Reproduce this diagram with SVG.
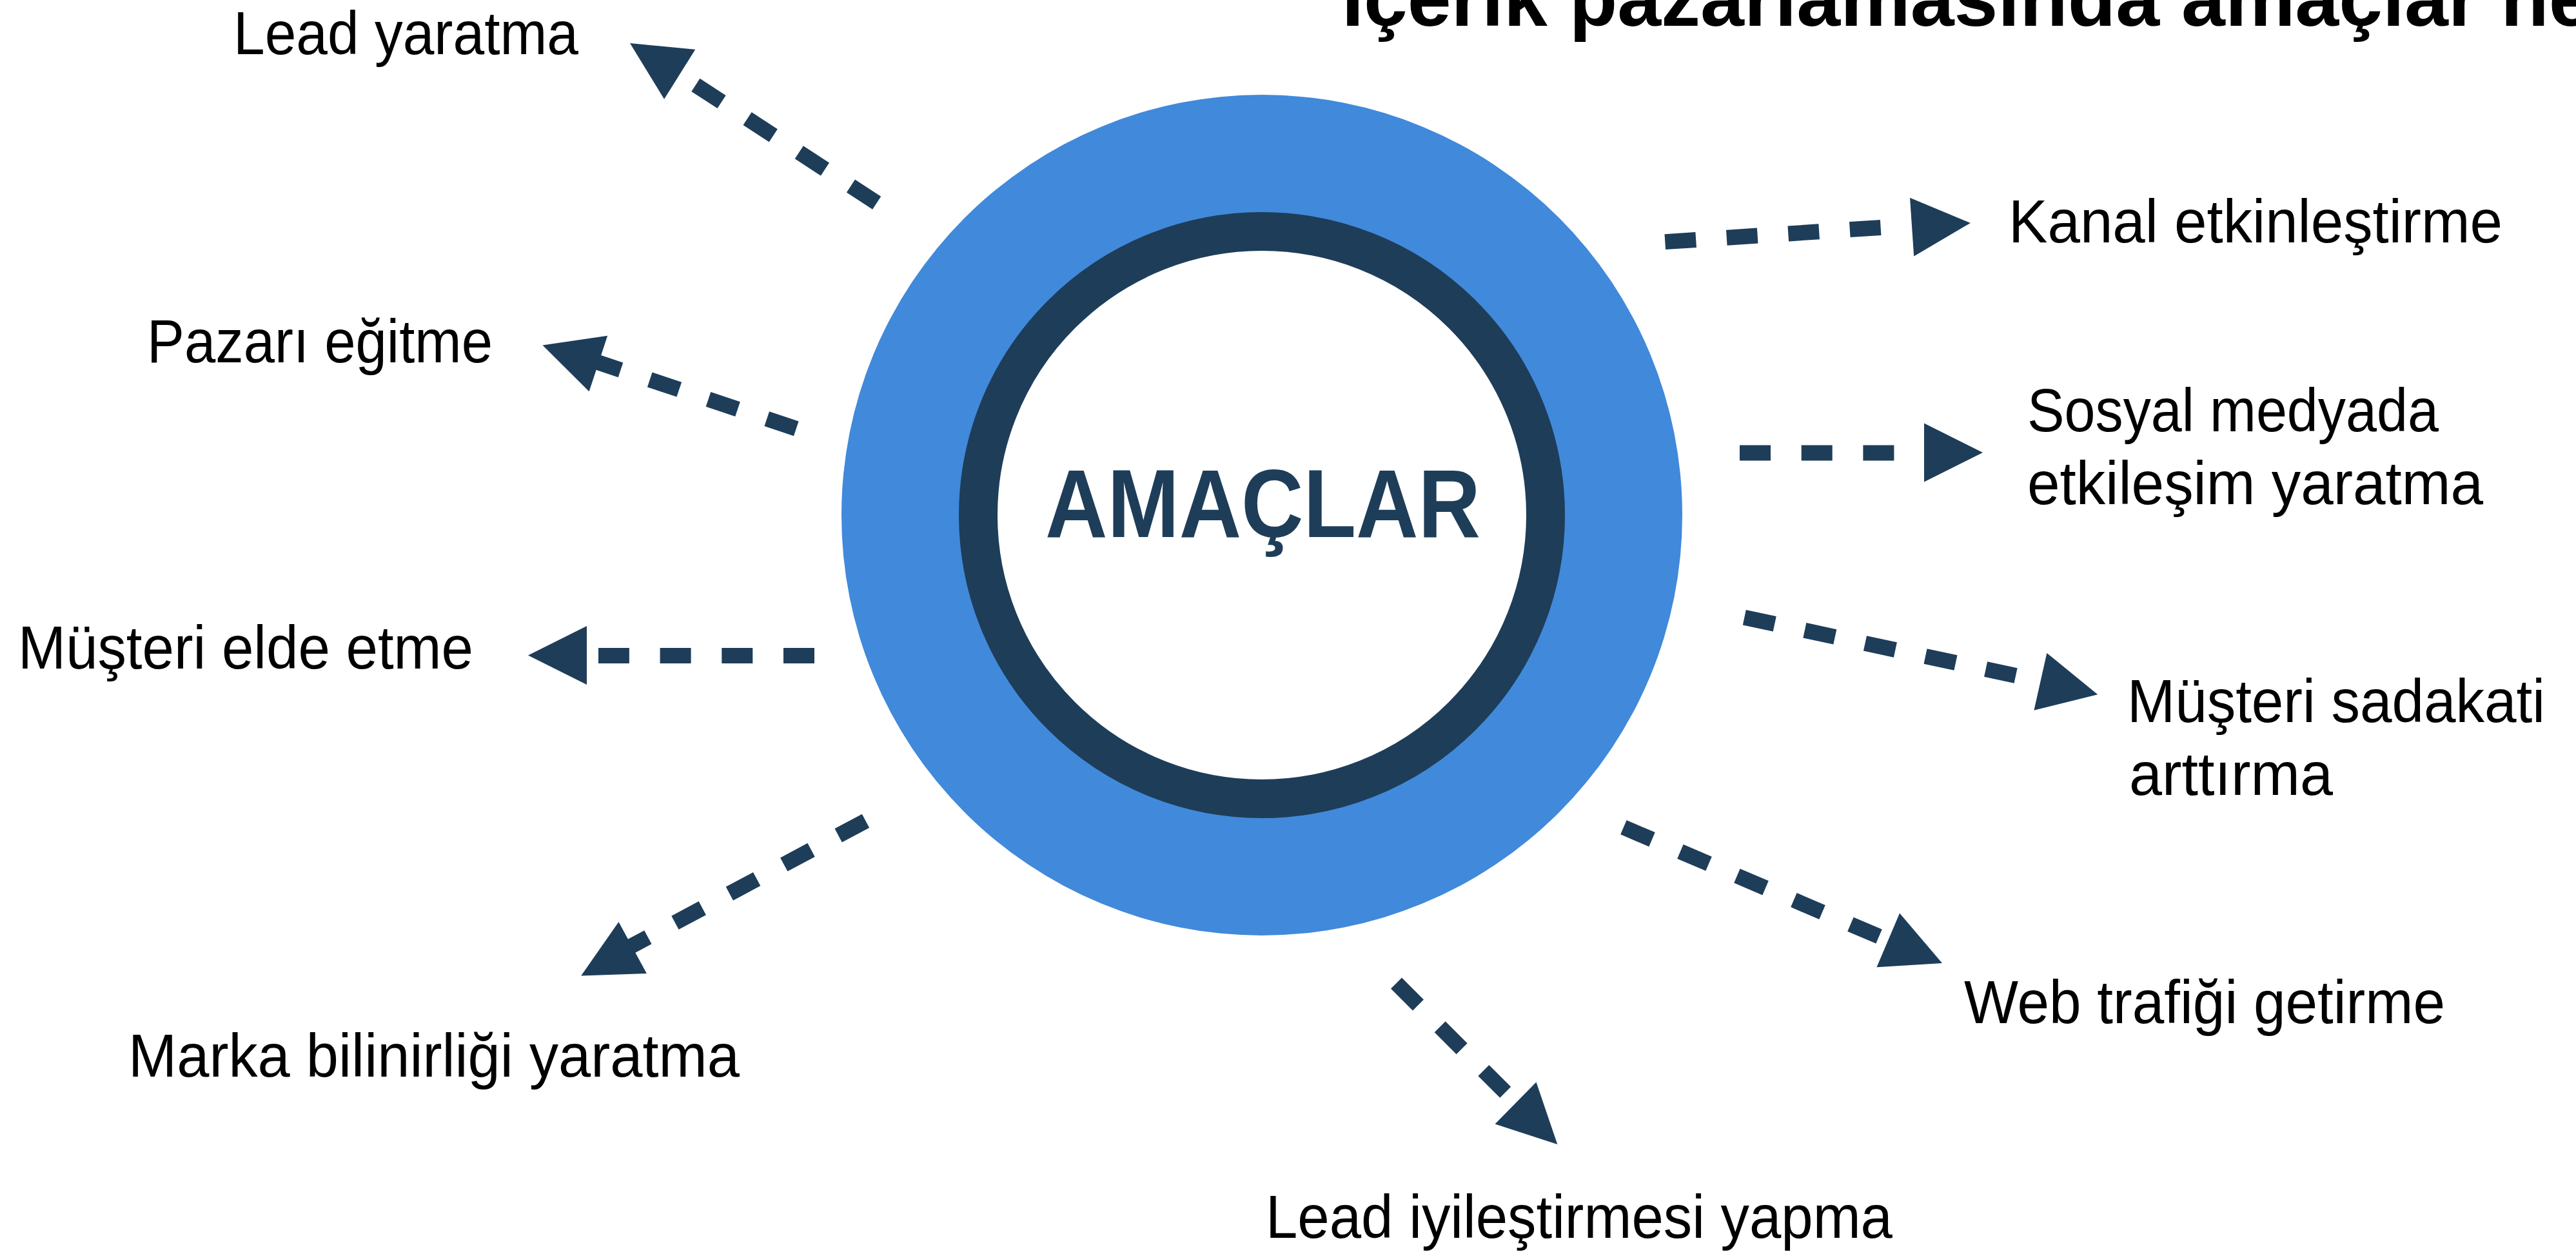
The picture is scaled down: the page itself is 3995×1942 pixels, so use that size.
<svg xmlns="http://www.w3.org/2000/svg" xmlns:xlink="http://www.w3.org/1999/xlink" width="3995" height="1942" viewBox="0 0 3995 1942">
<style>
.lbl{font-family:"Liberation Sans",Arial,sans-serif;font-size:94px;fill:#000;}
.title{font-family:"Liberation Sans",Arial,sans-serif;font-size:122px;font-weight:700;fill:#000;}
.center{font-family:"Liberation Sans",Arial,sans-serif;font-size:150px;font-weight:700;fill:#1e3d59;}
.dash{fill:none;stroke:#1e3d59;stroke-width:24;stroke-dasharray:48 47.7;}
.head{fill:#1e3d59;}
</style>
<defs>
<path id="ah" class="head" d="M0,0 L-91,-45.5 L-91,45.5 Z"/>
</defs>
<rect width="3995" height="1942" fill="#fff"/>
<text class="title" x="2081" y="40">İçerik pazarlamasında amaçlar ne</text>
<g id="center-node">
<circle cx="1957" cy="799" r="652" fill="#4189da"/>
<circle cx="1957" cy="799" r="440" fill="#fff" stroke="#1e3d59" stroke-width="60"/>
<text class="center" x="1621" y="833" textLength="675" lengthAdjust="spacingAndGlyphs">AMAÇLAR</text>
</g>
<g id="connectors">
<line class="dash" x1="1359.7" y1="314.7" x2="1078.2" y2="131.4"/>
<use xlink:href="#ah" transform="translate(977,67) rotate(212)"/>
<line class="dash" x1="1234.8" y1="664.9" x2="915.6" y2="558.2"/>
<use xlink:href="#ah" transform="translate(841.5,535.5) rotate(198.3)"/>
<line class="dash" x1="1263" y1="1017" x2="928" y2="1017"/>
<use xlink:href="#ah" transform="translate(819,1016.5) rotate(180)"/>
<line class="dash" x1="1342.5" y1="1273.3" x2="958.9" y2="1478.3"/>
<use xlink:href="#ah" transform="translate(901.2,1513.4) rotate(151.5)"/>
<line class="dash" x1="2582.3" y1="375.1" x2="2916.8" y2="352.9"/>
<use xlink:href="#ah" transform="translate(3055.9,345.9) rotate(-3.9)"/>
<line class="dash" x1="2698" y1="702.5" x2="2938.6" y2="702.5"/>
<use xlink:href="#ah" transform="translate(3075,702) rotate(0)"/>
<line class="dash" x1="2705.3" y1="957.8" x2="3126.1" y2="1047.9"/>
<use xlink:href="#ah" transform="translate(3253.2,1077.2) rotate(12.65)"/>
<line class="dash" x1="2517.9" y1="1283.3" x2="2916.8" y2="1453.7"/>
<use xlink:href="#ah" transform="translate(3012,1494) rotate(23.05)"/>
<line class="dash" x1="2165.5" y1="1525.1" x2="2334.7" y2="1694.3"/>
<use xlink:href="#ah" transform="translate(2415.3,1774.9) rotate(44.6)"/>
</g>
<g id="lead-yaratma"><text class="lbl" x="362" y="84" textLength="535" lengthAdjust="spacingAndGlyphs">Lead yaratma</text></g>
<g id="pazari-egitme"><text class="lbl" x="228" y="562" textLength="536" lengthAdjust="spacingAndGlyphs">Pazarı eğitme</text></g>
<g id="musteri-elde-etme"><text class="lbl" x="28" y="1037" textLength="706" lengthAdjust="spacingAndGlyphs">Müşteri elde etme</text></g>
<g id="marka-bilinirligi"><text class="lbl" x="199" y="1670" textLength="948" lengthAdjust="spacingAndGlyphs">Marka bilinirliği yaratma</text></g>
<g id="kanal-etkinlestirme"><text class="lbl" x="3115" y="376" textLength="766" lengthAdjust="spacingAndGlyphs">Kanal etkinleştirme</text></g>
<g id="sosyal-medya">
<text class="lbl" x="3144" y="669" textLength="638" lengthAdjust="spacingAndGlyphs">Sosyal medyada</text>
<text class="lbl" x="3144" y="782" textLength="707" lengthAdjust="spacingAndGlyphs">etkileşim yaratma</text>
</g>
<g id="musteri-sadakati">
<text class="lbl" x="3299" y="1120" textLength="648" lengthAdjust="spacingAndGlyphs">Müşteri sadakati</text>
<text class="lbl" x="3302" y="1233" textLength="316" lengthAdjust="spacingAndGlyphs">arttırma</text>
</g>
<g id="web-trafigi"><text class="lbl" x="3046" y="1587" textLength="746" lengthAdjust="spacingAndGlyphs">Web trafiği getirme</text></g>
<g id="lead-iyilestirme"><text class="lbl" x="1963" y="1920" textLength="972" lengthAdjust="spacingAndGlyphs">Lead iyileştirmesi yapma</text></g>
</svg>
